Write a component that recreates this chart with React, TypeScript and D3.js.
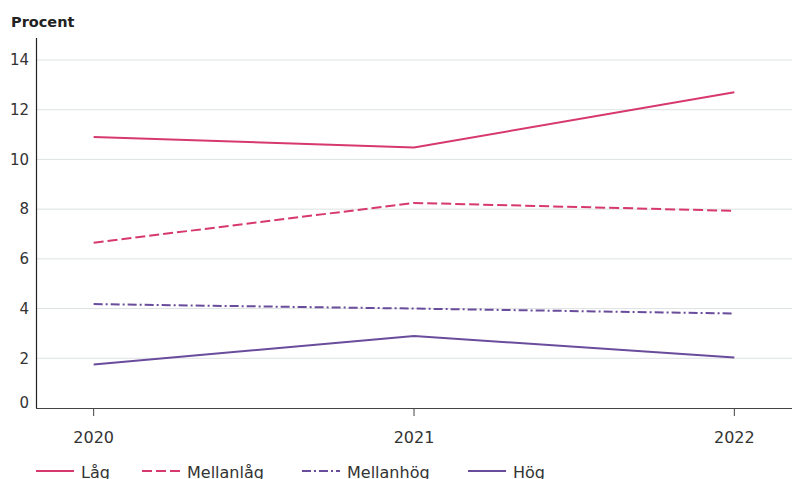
import React, { useRef, useEffect } from "react";
import * as d3 from "d3";

const years = ["2020", "2021", "2022"];
const lag = [10.9, 10.48, 12.7];
const mellanlag = [6.65, 8.25, 7.93];
const mellanhog = [4.18, 4.0, 3.8];
const hog = [1.75, 2.9, 2.03];
const yTicks = [0, 2, 4, 6, 8, 10, 12, 14];

const series = [
  { name: "Låg", values: lag, color: "#d6386f", dash: "" },
  { name: "Mellanlåg", values: mellanlag, color: "#d6386f", dash: "10,4" },
  { name: "Mellanhög", values: mellanhog, color: "#6a4c9c", dash: "9,3,2,3" },
  { name: "Hög", values: hog, color: "#6a4c9c", dash: "" },
];

const App = () => {
  const ref = useRef<SVGSVGElement>(null);
  const width = 792;
  const height = 479;
  const font = "'DejaVu Sans', sans-serif";

  useEffect(() => {
    const svg = d3.select(ref.current);
    svg.selectAll("*").remove();

    const x = d3.scalePoint().domain(years).range([36, 792]).padding(0.18);
    const y = d3.scaleLinear().domain([0, 14]).range([408, 60]);

    // gridlines
    svg.append("g")
      .selectAll("line")
      .data(yTicks.filter((d) => d > 0))
      .enter().append("line")
      .attr("x1", 36).attr("x2", width)
      .attr("y1", (d) => y(d)).attr("y2", (d) => y(d))
      .attr("stroke", "#dde2e3").attr("stroke-width", 1);

    // y labels
    svg.append("g")
      .selectAll("text")
      .data(yTicks)
      .enter().append("text")
      .attr("x", 29).attr("y", (d) => y(d) - (d === 0 ? 5 : 0))
      .attr("dy", "0.35em")
      .attr("text-anchor", "end")
      .style("font-family", font).style("font-size", "15px").style("fill", "#333")
      .text((d) => d);

    // axes
    svg.append("line").attr("x1", 36.5).attr("x2", 36.5).attr("y1", 38).attr("y2", 408)
      .attr("stroke", "#222").attr("stroke-width", 1.2);
    svg.append("line").attr("x1", 36).attr("x2", width).attr("y1", 408.5).attr("y2", 408.5)
      .attr("stroke", "#444").attr("stroke-width", 1.2);

    svg.append("g")
      .selectAll("line")
      .data(years)
      .enter().append("line")
      .attr("x1", (d) => x(d)!).attr("x2", (d) => x(d)!)
      .attr("y1", 409).attr("y2", 416)
      .attr("stroke", "#444");

    svg.append("g")
      .selectAll("text")
      .data(years)
      .enter().append("text")
      .attr("x", (d) => x(d)!).attr("y", 443)
      .attr("text-anchor", "middle")
      .style("font-family", font).style("font-size", "16px").style("fill", "#333")
      .text((d) => d);

    // title
    svg.append("text").attr("x", 11).attr("y", 27)
      .style("font-family", font).style("font-size", "14.5px").style("font-weight", "bold")
      .style("fill", "#222").text("Procent");

    const line = d3.line<number>()
      .x((_, i) => x(years[i])!)
      .y((d) => y(d));

    series.forEach((s) => {
      svg.append("path")
        .attr("d", line(s.values))
        .attr("fill", "none")
        .attr("stroke", s.color)
        .attr("stroke-width", 2)
        .attr("stroke-dasharray", s.dash);
    });

    // legend
    const legendX = [36, 142, 302, 468];
    series.forEach((s, i) => {
      const g = svg.append("g").attr("transform", `translate(${legendX[i]},471)`);
      g.append("line").attr("x1", 0).attr("x2", 38).attr("y1", 0).attr("y2", 0)
        .attr("stroke", s.color).attr("stroke-width", 2)
        .attr("stroke-dasharray", s.dash);
      g.append("text").attr("x", 45).attr("y", 7)
        .style("font-family", font).style("font-size", "16px").style("fill", "#333")
        .text(s.name);
    });
  });

  return (
    <svg ref={ref} width={width} height={height}
      style={{ position: "absolute", left: 0, top: 0, background: "#fff" }} />
  );
};

export default App;
